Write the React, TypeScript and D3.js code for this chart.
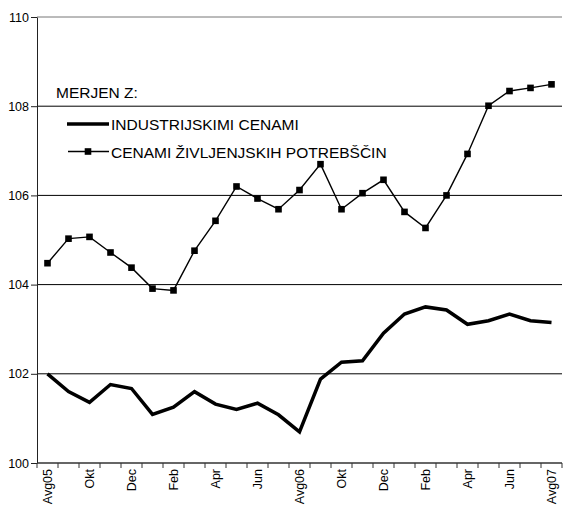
import React, { useEffect, useRef } from 'react';
import * as d3 from 'd3';

// months Avg05 .. Avg07
const months = [
  'Avg05', 'Sep05', 'Okt', 'Nov05', 'Dec', 'Jan06', 'Feb', 'Mar06', 'Apr', 'Maj06', 'Jun', 'Jul06',
  'Avg06', 'Sep06', 'Okt', 'Nov06', 'Dec', 'Jan07', 'Feb', 'Mar07', 'Apr', 'Maj07', 'Jun', 'Jul07', 'Avg07',
];

const industrijske = [
  102.0, 101.6, 101.36, 101.76, 101.67, 101.09, 101.25, 101.6, 101.32, 101.2, 101.34, 101.08,
  100.7, 101.88, 102.26, 102.29, 102.91, 103.34, 103.5, 103.43, 103.11, 103.19, 103.34, 103.19, 103.15,
];

const zivljenjske = [
  104.48, 105.03, 105.07, 104.72, 104.38, 103.91, 103.87, 104.76, 105.43, 106.2, 105.93, 105.69,
  106.12, 106.7, 105.69, 106.05, 106.35, 105.63, 105.27, 106.0, 106.93, 108.01, 108.34, 108.41, 108.49,
];

const yTicks = [100, 102, 104, 106, 108, 110];

const legendTitle = 'MERJEN Z:';
const seriesNames = ['INDUSTRIJSKIMI CENAMI', 'CENAMI ŽIVLJENJSKIH POTREBŠČIN'];

const font = 'Arial, "Liberation Sans", Helvetica, sans-serif';

const Chart = () => {
  const ref = useRef<SVGSVGElement>(null);

  useEffect(() => {
    const svg = d3.select(ref.current);
    svg.selectAll('*').remove();

    const left = 37, right = 562, top = 17, bottom = 463;

    const x = d3.scaleBand<number>()
      .domain(months.map((_, i) => i))
      .range([left, right])
      .padding(0);
    const cx = (i: number) => (x(i) as number) + x.bandwidth() / 2;

    const y = d3.scaleLinear().domain([100, 110]).range([bottom, top]);

    // gridlines
    svg.append('g')
      .selectAll('line')
      .data(yTicks.filter(t => t > 100))
      .enter().append('line')
      .attr('x1', left).attr('x2', right)
      .attr('y1', d => y(d)).attr('y2', d => y(d))
      .attr('stroke', d => (d === 110 ? '#777' : '#000'))
      .attr('stroke-width', 1);

    // y axis
    const ya = svg.append('g')
      .attr('transform', `translate(${left},0)`)
      .call(d3.axisLeft(y).tickValues(yTicks).tickSize(6).tickPadding(2).tickSizeOuter(0));
    ya.select('.domain').attr('stroke', '#222');
    ya.selectAll('line').attr('stroke', '#222');
    ya.selectAll('text')
      .attr('font-family', font).attr('font-size', 12.5).attr('fill', '#000');

    // x axis: ticks on band boundaries
    const xa = svg.append('g');
    xa.append('line')
      .attr('x1', left).attr('x2', right)
      .attr('y1', bottom).attr('y2', bottom)
      .attr('stroke', '#333').attr('stroke-width', 1.3);
    xa.selectAll('.tk')
      .data(d3.range(months.length + 1))
      .enter().append('line')
      .attr('class', 'tk')
      .attr('x1', i => left + i * x.bandwidth())
      .attr('x2', i => left + i * x.bandwidth())
      .attr('y1', bottom).attr('y2', bottom + 5)
      .attr('stroke', '#333');
    xa.selectAll('.lb')
      .data(months.map((m, i) => ({ m, i })).filter(d => d.i % 2 === 0))
      .enter().append('text')
      .attr('class', 'lb')
      .attr('transform', d => `translate(${cx(d.i)},${bottom + 6}) rotate(-90)`)
      .attr('text-anchor', 'end')
      .attr('dy', '0.35em')
      .attr('font-family', font).attr('font-size', 12.5)
      .text(d => d.m);

    const line = d3.line<number>()
      .x((_, i) => cx(i))
      .y(d => y(d));

    svg.append('path')
      .datum(industrijske)
      .attr('d', line)
      .attr('fill', 'none')
      .attr('stroke', '#000')
      .attr('stroke-width', 3.5)
      .attr('stroke-linejoin', 'miter');

    svg.append('path')
      .datum(zivljenjske)
      .attr('d', line)
      .attr('fill', 'none')
      .attr('stroke', '#000')
      .attr('stroke-width', 1.4);

    svg.selectAll('.mk')
      .data(zivljenjske)
      .enter().append('rect')
      .attr('class', 'mk')
      .attr('x', (_, i) => cx(i) - 3.3)
      .attr('y', d => y(d) - 3.3)
      .attr('width', 6.6).attr('height', 6.6)
      .attr('fill', '#000');

    // legend
    const lg = svg.append('g').attr('font-family', font).attr('font-size', 15.5);
    lg.append('text').attr('x', 56).attr('y', 98).text(legendTitle);

    lg.append('line')
      .attr('x1', 67).attr('x2', 109).attr('y1', 124).attr('y2', 124)
      .attr('stroke', '#000').attr('stroke-width', 3.5);
    lg.append('text').attr('x', 111).attr('y', 129.5).text(seriesNames[0]);

    lg.append('line')
      .attr('x1', 68).attr('x2', 109).attr('y1', 151.5).attr('y2', 151.5)
      .attr('stroke', '#000').attr('stroke-width', 1.4);
    lg.append('rect')
      .attr('x', 88 - 3.3).attr('y', 151.5 - 3.3).attr('width', 6.6).attr('height', 6.6)
      .attr('fill', '#000');
    lg.append('text').attr('x', 111).attr('y', 157.5).text(seriesNames[1]);
  }, []);

  return <svg ref={ref} width={563} height={509} style={{ display: 'block' }} />;
};

export default function App() {
  return (
    <div style={{ position: 'absolute', left: 0, top: 0, background: '#fff' }}>
      <Chart />
    </div>
  );
}
